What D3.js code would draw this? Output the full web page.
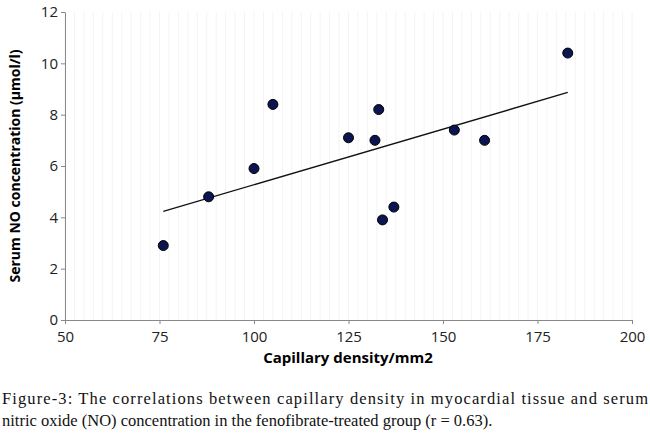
<!DOCTYPE html>
<html><head><meta charset="utf-8">
<script src="https://cdn.jsdelivr.net/npm/d3@7"></script>
<style>body{margin:0;background:#fff}</style>
</head><body>
<svg id="chart" width="650" height="438"></svg>
<script>
// capillary density vs serum NO
var data = [
  {x: 76, y: 2.9}, {x: 88, y: 4.8}, {x: 100, y: 5.9}, {x: 105, y: 8.4},
  {x: 125, y: 7.1}, {x: 132, y: 7.0}, {x: 133, y: 8.2}, {x: 134, y: 3.9},
  {x: 137, y: 4.4}, {x: 153, y: 7.4}, {x: 161, y: 7.0}, {x: 183, y: 10.4}
];
var svg = d3.select("#chart");
var x = d3.scaleLinear().domain([50, 200]).range([65, 632]);
var y = d3.scaleLinear().domain([0, 12]).range([320, 12]);

// faint vertical grid
svg.append("g").selectAll("line").data(d3.range(50, 200.1, 2.5)).enter().append("line")
  .attr("x1", d => x(d)).attr("x2", d => x(d)).attr("y1", y(12)).attr("y2", y(0))
  .attr("stroke", "#f4f4f4").attr("stroke-width", 1);

var xAxis = svg.append("g").attr("transform", "translate(0,320)")
  .call(d3.axisBottom(x).tickValues(d3.range(50, 201, 25)).tickSize(4).tickSizeOuter(0));
var yAxis = svg.append("g").attr("transform", "translate(65,0)")
  .call(d3.axisLeft(y).tickValues(d3.range(0, 13, 2)).tickSize(4).tickSizeOuter(0));
[xAxis, yAxis].forEach(a => {
  a.selectAll("path,line").attr("stroke", "#888");
  a.selectAll("text").attr("font-family", "Open Sans, sans-serif").attr("font-size", 15).attr("fill", "#222");
});
xAxis.selectAll("text").attr("dy", "1em");

// trend line (least squares)
var mx = d3.mean(data, d => d.x), my = d3.mean(data, d => d.y);
var slope = d3.sum(data, d => (d.x - mx) * (d.y - my)) / d3.sum(data, d => (d.x - mx) * (d.x - mx));
var icpt = my - slope * mx;
var ext = d3.extent(data, d => d.x);
svg.append("line")
  .attr("x1", x(ext[0])).attr("y1", y(icpt + slope * ext[0]))
  .attr("x2", x(ext[1])).attr("y2", y(icpt + slope * ext[1]))
  .attr("stroke", "#111").attr("stroke-width", 1.3);

svg.append("g").selectAll("circle").data(data).enter().append("circle")
  .attr("cx", d => x(d.x)).attr("cy", d => y(d.y)).attr("r", 5)
  .attr("fill", "#0b1650").attr("stroke", "#000").attr("stroke-width", 1);

svg.append("text").attr("x", 348).attr("y", 363).attr("text-anchor", "middle")
  .attr("font-family", "Open Sans, sans-serif").attr("font-weight", "bold").attr("font-size", 15)
  .text("Capillary density/mm2");
svg.append("text").attr("transform", "translate(20,166) rotate(-90)").attr("text-anchor", "middle")
  .attr("font-family", "Open Sans, sans-serif").attr("font-weight", "bold").attr("font-size", 14)
  .text("Serum NO concentration (µmol/l)");

var cap = svg.append("text").attr("font-family", "Liberation Serif, serif").attr("font-size", 16.5).attr("fill", "#111");
cap.append("tspan").attr("x", 2).attr("y", 404).attr("textLength", 646).text("Figure-3: The correlations between capillary density in myocardial tissue and serum");
cap.append("tspan").attr("x", 2).attr("y", 426).text("nitric oxide (NO) concentration in the fenofibrate-treated group (r = 0.63).");
</script>
</body></html>
